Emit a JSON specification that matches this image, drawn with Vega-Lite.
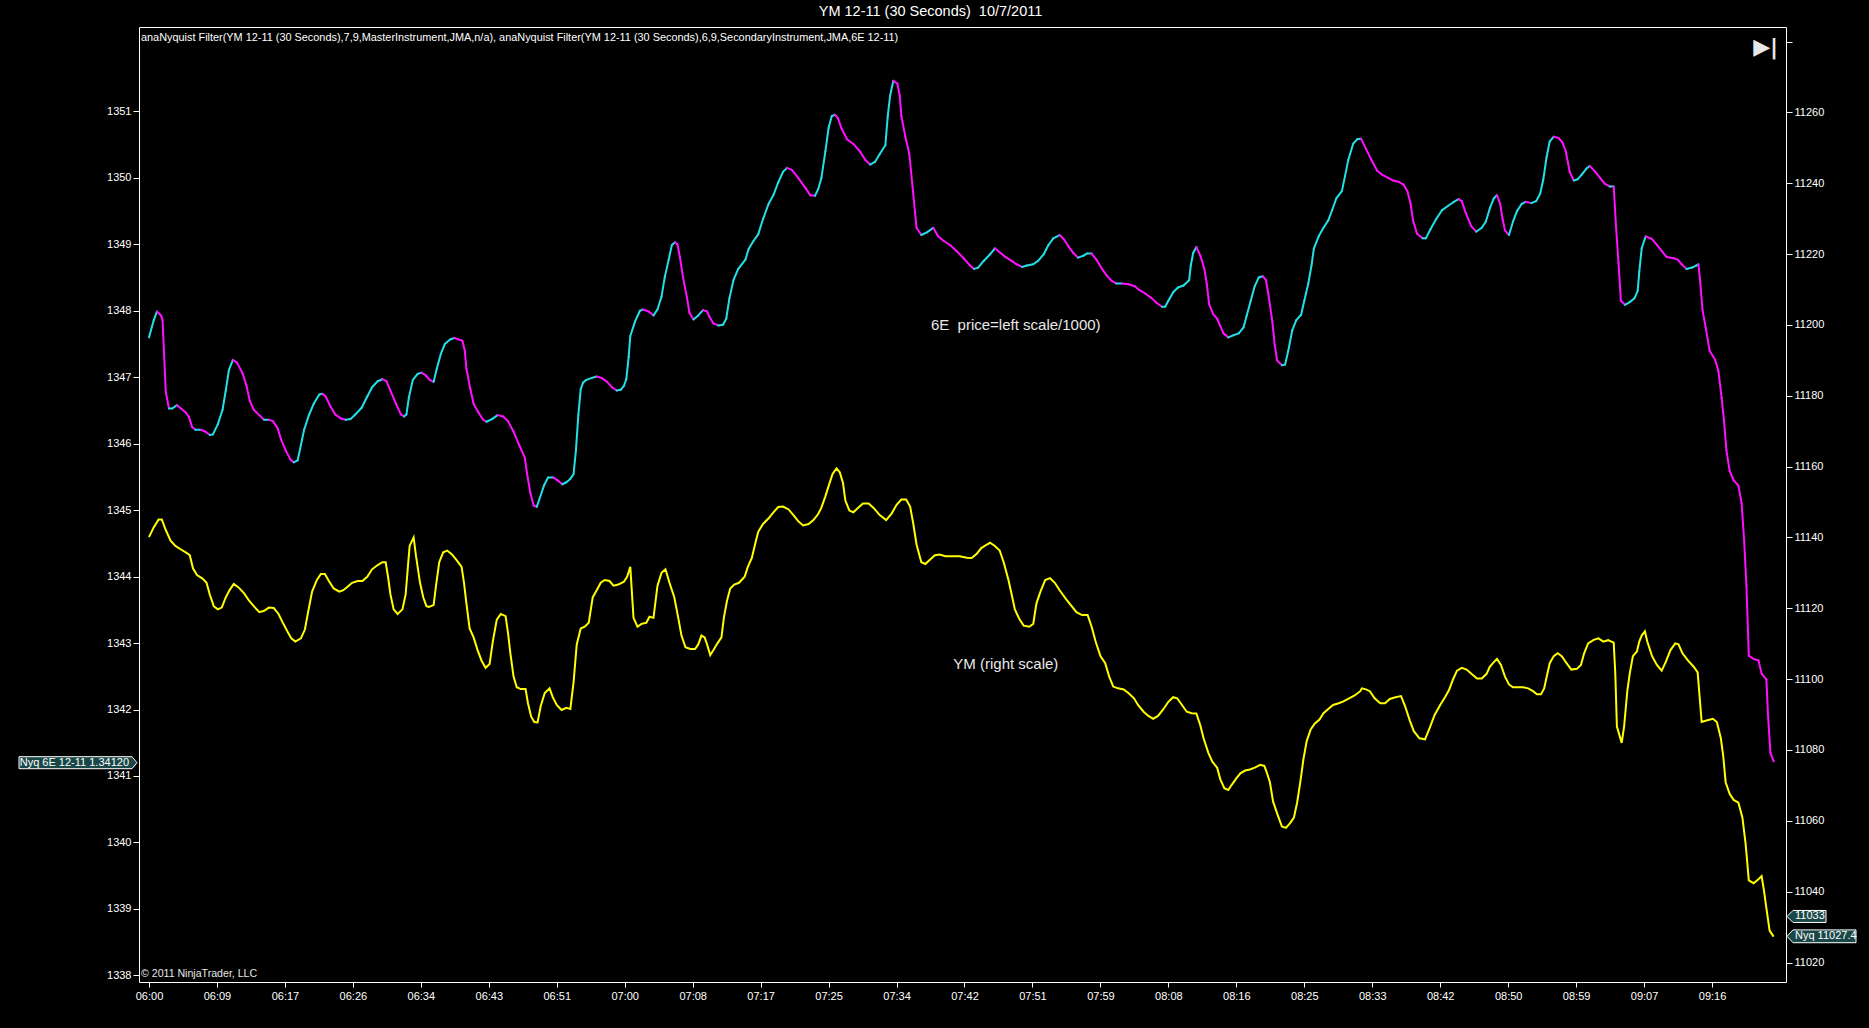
{
"$schema": "https://vega.github.io/schema/vega-lite/v6.json",
"width": 1647,
"height": 955,
"autosize": {"type": "none"},
"padding": {"left": 139, "top": 27, "right": 83, "bottom": 46},
"background": "#000000",
"config": {
  "view": {"stroke": "#ffffff", "strokeWidth": 1},
  "font": "Liberation Sans",
  "axis": {"labelColor": "#ffffff", "tickColor": "#ffffff", "domain": false, "grid": false, "labelFont": "Liberation Sans", "labelFontSize": 11, "tickSize": 6}
},
"title": {"text": "YM 12-11 (30 Seconds)\u00a0 10/7/2011", "color": "#ffffff", "fontSize": 14.5, "fontWeight": "normal", "font": "Liberation Sans", "anchor": "middle", "frame": "group", "dx": -32, "offset": 8},
"datasets": {
  "e6": [
{"m":0,"v":1347.6},{"m":0.6,"v":1347.86},{"m":1.0,"v":1347.99},{"m":1.5,"v":1347.93},{"m":1.7,"v":1347.86},{"m":1.9,"v":1347.31},{"m":2.1,"v":1346.78},{"m":2.5,"v":1346.53},{"m":2.9,"v":1346.53},{"m":3.5,"v":1346.58},{"m":4.0,"v":1346.53},{"m":4.6,"v":1346.47},{"m":5.0,"v":1346.4},{"m":5.4,"v":1346.25},{"m":5.8,"v":1346.21},{"m":6.5,"v":1346.21},{"m":7.1,"v":1346.18},{"m":7.6,"v":1346.13},{"m":8.0,"v":1346.14},{"m":8.6,"v":1346.29},{"m":9.2,"v":1346.51},{"m":9.6,"v":1346.8},{"m":10.0,"v":1347.11},{"m":10.5,"v":1347.26},{"m":11.0,"v":1347.22},{"m":11.7,"v":1347.06},{"m":12.2,"v":1346.87},{"m":12.6,"v":1346.65},{"m":13.1,"v":1346.51},{"m":13.8,"v":1346.43},{"m":14.4,"v":1346.36},{"m":15.0,"v":1346.36},{"m":15.5,"v":1346.34},{"m":16.1,"v":1346.23},{"m":16.5,"v":1346.07},{"m":17.1,"v":1345.9},{"m":17.7,"v":1345.76},{"m":18.1,"v":1345.72},{"m":18.6,"v":1345.75},{"m":19.0,"v":1345.98},{"m":19.4,"v":1346.21},{"m":20.0,"v":1346.43},{"m":20.6,"v":1346.6},{"m":21.3,"v":1346.74},{"m":21.7,"v":1346.75},{"m":22.1,"v":1346.71},{"m":22.7,"v":1346.56},{"m":23.3,"v":1346.44},{"m":24.0,"v":1346.38},{"m":24.6,"v":1346.36},{"m":25.2,"v":1346.37},{"m":25.8,"v":1346.44},{"m":26.6,"v":1346.54},{"m":27.3,"v":1346.71},{"m":27.9,"v":1346.85},{"m":28.6,"v":1346.94},{"m":29.2,"v":1346.97},{"m":29.7,"v":1346.94},{"m":30.2,"v":1346.8},{"m":30.9,"v":1346.6},{"m":31.5,"v":1346.44},{"m":31.9,"v":1346.41},{"m":32.2,"v":1346.44},{"m":32.5,"v":1346.69},{"m":33.0,"v":1346.96},{"m":33.6,"v":1347.05},{"m":34.1,"v":1347.07},{"m":34.6,"v":1347.03},
{"m":35.1,"v":1346.96},{"m":35.6,"v":1346.93},{"m":36.0,"v":1347.13},{"m":36.5,"v":1347.35},{"m":37.0,"v":1347.5},{"m":37.7,"v":1347.57},{"m":38.2,"v":1347.59},{"m":38.7,"v":1347.57},{"m":39.2,"v":1347.55},{"m":39.5,"v":1347.4},{"m":39.7,"v":1347.13},{"m":40.2,"v":1346.82},{"m":40.6,"v":1346.6},{"m":41.2,"v":1346.47},{"m":41.8,"v":1346.36},{"m":42.2,"v":1346.33},{"m":42.9,"v":1346.37},{"m":43.6,"v":1346.43},{"m":44.3,"v":1346.41},{"m":44.9,"v":1346.34},{"m":45.6,"v":1346.18},{"m":46.3,"v":1345.98},{"m":47.0,"v":1345.79},{"m":47.3,"v":1345.54},{"m":47.7,"v":1345.26},{"m":48.1,"v":1345.07},{"m":48.5,"v":1345.05},{"m":48.9,"v":1345.19},{"m":49.4,"v":1345.37},{"m":49.9,"v":1345.49},{"m":50.6,"v":1345.49},{"m":51.2,"v":1345.44},{"m":51.7,"v":1345.39},{"m":52.2,"v":1345.42},{"m":52.7,"v":1345.47},{"m":53.1,"v":1345.54},{"m":53.4,"v":1345.9},{"m":53.7,"v":1346.43},{"m":54.0,"v":1346.82},{"m":54.3,"v":1346.92},{"m":54.7,"v":1346.96},{"m":55.4,"v":1346.99},{"m":56.0,"v":1347.01},{"m":56.6,"v":1346.99},{"m":57.3,"v":1346.93},{"m":57.9,"v":1346.85},{"m":58.5,"v":1346.8},{"m":59.0,"v":1346.81},{"m":59.4,"v":1346.87},{"m":59.7,"v":1346.97},{"m":60.0,"v":1347.31},{"m":60.2,"v":1347.62},{"m":60.8,"v":1347.84},{"m":61.4,"v":1348.0},{"m":61.8,"v":1348.02},{"m":62.5,"v":1347.99},{"m":63.1,"v":1347.93},{"m":63.6,"v":1348.02},{"m":64.1,"v":1348.21},{"m":64.5,"v":1348.5},{"m":65.0,"v":1348.77},{"m":65.4,"v":1348.99},{"m":65.8,"v":1349.03},{"m":66.1,"v":1349.0},{"m":66.4,"v":1348.81},{"m":66.8,"v":1348.5},{"m":67.3,"v":1348.19},{"m":67.6,"v":1347.97},{"m":68.1,"v":1347.87},{"m":68.7,"v":1347.93},{"m":69.3,"v":1348.01},{"m":69.8,"v":1347.99},
{"m":70.1,"v":1347.91},{"m":70.6,"v":1347.81},{"m":71.2,"v":1347.78},{"m":71.8,"v":1347.79},{"m":72.2,"v":1347.88},{"m":72.6,"v":1348.19},{"m":73.1,"v":1348.46},{"m":73.7,"v":1348.63},{"m":74.6,"v":1348.77},{"m":75.0,"v":1348.93},{"m":75.6,"v":1349.05},{"m":76.2,"v":1349.15},{"m":76.8,"v":1349.38},{"m":77.5,"v":1349.61},{"m":78.1,"v":1349.74},{"m":78.7,"v":1349.93},{"m":79.3,"v":1350.09},{"m":79.8,"v":1350.15},{"m":80.4,"v":1350.12},{"m":81.2,"v":1350.0},{"m":82.1,"v":1349.85},{"m":82.7,"v":1349.74},{"m":83.3,"v":1349.73},{"m":83.7,"v":1349.83},{"m":84.1,"v":1350.0},{"m":84.6,"v":1350.4},{"m":85.0,"v":1350.75},{"m":85.4,"v":1350.93},{"m":85.8,"v":1350.95},{"m":86.2,"v":1350.89},{"m":86.6,"v":1350.75},{"m":87.3,"v":1350.58},{"m":88.1,"v":1350.51},{"m":88.9,"v":1350.4},{"m":89.6,"v":1350.27},{"m":90.2,"v":1350.2},{"m":90.8,"v":1350.24},{"m":91.4,"v":1350.36},{"m":92.1,"v":1350.49},{"m":92.4,"v":1350.93},{"m":92.7,"v":1351.24},{"m":93.1,"v":1351.46},{"m":93.6,"v":1351.42},{"m":93.9,"v":1351.24},{"m":94.1,"v":1350.93},{"m":94.6,"v":1350.62},{"m":95.1,"v":1350.36},{"m":95.5,"v":1349.87},{"m":96.0,"v":1349.25},{"m":96.6,"v":1349.14},{"m":97.3,"v":1349.18},{"m":98.1,"v":1349.25},{"m":98.7,"v":1349.12},{"m":99.4,"v":1349.05},{"m":100.2,"v":1348.99},{"m":101.0,"v":1348.9},{"m":101.9,"v":1348.79},{"m":102.7,"v":1348.68},{"m":103.2,"v":1348.63},{"m":103.7,"v":1348.65},{"m":104.4,"v":1348.75},{"m":105.2,"v":1348.85},
{"m":105.8,"v":1348.94},{"m":106.4,"v":1348.88},{"m":107.1,"v":1348.81},{"m":107.9,"v":1348.75},{"m":108.5,"v":1348.7},{"m":109.2,"v":1348.66},{"m":109.8,"v":1348.68},{"m":110.6,"v":1348.7},{"m":111.2,"v":1348.75},{"m":111.9,"v":1348.85},{"m":112.5,"v":1348.99},{"m":113.1,"v":1349.09},{"m":113.9,"v":1349.14},{"m":114.4,"v":1349.08},{"m":115.0,"v":1348.97},{"m":115.6,"v":1348.87},{"m":116.2,"v":1348.8},{"m":116.9,"v":1348.83},{"m":117.3,"v":1348.86},{"m":117.9,"v":1348.86},{"m":118.5,"v":1348.77},{"m":119.2,"v":1348.63},{"m":119.8,"v":1348.53},{"m":120.4,"v":1348.45},{"m":121.0,"v":1348.41},{"m":121.7,"v":1348.41},{"m":122.5,"v":1348.4},{"m":123.3,"v":1348.37},{"m":123.9,"v":1348.31},{"m":124.6,"v":1348.26},{"m":125.4,"v":1348.19},{"m":126.0,"v":1348.12},{"m":126.7,"v":1348.06},{"m":127.1,"v":1348.06},{"m":127.5,"v":1348.15},{"m":128.1,"v":1348.28},{"m":128.7,"v":1348.35},{"m":129.4,"v":1348.38},{"m":130.1,"v":1348.46},{"m":130.3,"v":1348.68},{"m":130.6,"v":1348.87},{"m":131.0,"v":1348.96},{"m":131.5,"v":1348.83},{"m":132.0,"v":1348.63},{"m":132.3,"v":1348.41},{"m":132.6,"v":1348.1},{"m":133.1,"v":1347.95},{"m":133.6,"v":1347.88},{"m":134.0,"v":1347.77},{"m":134.4,"v":1347.66},{"m":135.0,"v":1347.6},{"m":135.6,"v":1347.63},{"m":136.3,"v":1347.66},{"m":136.9,"v":1347.75},{"m":137.3,"v":1347.93},{"m":137.8,"v":1348.15},{"m":138.3,"v":1348.37},{"m":138.8,"v":1348.5},{"m":139.3,"v":1348.52},{"m":139.7,"v":1348.46},{"m":140.0,"v":1348.26},
{"m":140.5,"v":1347.84},{"m":140.8,"v":1347.49},{"m":141.1,"v":1347.25},{"m":141.7,"v":1347.18},{"m":142.1,"v":1347.19},{"m":142.5,"v":1347.4},{"m":143.0,"v":1347.71},{"m":143.5,"v":1347.86},{"m":144.1,"v":1347.94},{"m":144.5,"v":1348.15},{"m":145.0,"v":1348.41},{"m":145.4,"v":1348.68},{"m":145.7,"v":1348.94},{"m":146.3,"v":1349.12},{"m":146.9,"v":1349.25},{"m":147.5,"v":1349.36},{"m":148.0,"v":1349.52},{"m":148.5,"v":1349.69},{"m":149.2,"v":1349.8},{"m":149.6,"v":1350.03},{"m":150.0,"v":1350.27},{"m":150.6,"v":1350.51},{"m":151.1,"v":1350.58},{"m":151.6,"v":1350.59},{"m":152.2,"v":1350.44},{"m":152.9,"v":1350.27},{"m":153.6,"v":1350.11},{"m":154.2,"v":1350.05},{"m":155.0,"v":1350.0},{"m":155.6,"v":1349.96},{"m":156.3,"v":1349.94},{"m":156.9,"v":1349.9},{"m":157.4,"v":1349.8},{"m":157.8,"v":1349.61},{"m":158.1,"v":1349.36},{"m":158.6,"v":1349.16},{"m":159.3,"v":1349.09},{"m":159.7,"v":1349.09},{"m":160.3,"v":1349.23},{"m":161.0,"v":1349.38},{"m":161.7,"v":1349.51},{"m":162.5,"v":1349.58},{"m":163.1,"v":1349.63},{"m":163.8,"v":1349.68},{"m":164.2,"v":1349.65},{"m":164.7,"v":1349.47},{"m":165.4,"v":1349.27},{"m":166.0,"v":1349.19},{"m":166.7,"v":1349.25},{"m":167.2,"v":1349.34},{"m":167.7,"v":1349.54},{"m":168.2,"v":1349.69},{"m":168.6,"v":1349.74},{"m":169.0,"v":1349.61},{"m":169.3,"v":1349.38},{"m":169.6,"v":1349.21},{"m":170.1,"v":1349.14},{"m":170.6,"v":1349.34},{"m":171.1,"v":1349.5},{"m":171.7,"v":1349.61},{"m":172.2,"v":1349.64},{"m":172.9,"v":1349.62},{"m":173.5,"v":1349.65},{"m":174.0,"v":1349.76},{"m":174.4,"v":1349.98},{"m":174.8,"v":1350.31},{"m":175.2,"v":1350.55},
{"m":175.7,"v":1350.62},{"m":176.3,"v":1350.6},{"m":176.8,"v":1350.53},{"m":177.2,"v":1350.4},{"m":177.7,"v":1350.09},{"m":178.2,"v":1349.96},{"m":178.7,"v":1349.98},{"m":179.2,"v":1350.05},{"m":179.8,"v":1350.14},{"m":180.2,"v":1350.18},{"m":180.9,"v":1350.09},{"m":181.5,"v":1350.0},{"m":182.1,"v":1349.91},{"m":182.7,"v":1349.87},{"m":183.2,"v":1349.87},{"m":183.5,"v":1349.25},{"m":183.8,"v":1348.72},{"m":184.1,"v":1348.15},{"m":184.6,"v":1348.09},{"m":185.2,"v":1348.13},{"m":185.8,"v":1348.19},{"m":186.2,"v":1348.3},{"m":186.4,"v":1348.59},{"m":186.7,"v":1348.94},{"m":187.2,"v":1349.12},{"m":188.0,"v":1349.08},{"m":188.6,"v":1348.99},{"m":189.2,"v":1348.9},{"m":189.8,"v":1348.81},{"m":190.7,"v":1348.79},{"m":191.2,"v":1348.77},{"m":191.7,"v":1348.7},{"m":192.3,"v":1348.63},{"m":193.0,"v":1348.65},{"m":193.5,"v":1348.68},{"m":193.8,"v":1348.7},{"m":194.0,"v":1348.46},{"m":194.3,"v":1348.02},{"m":194.7,"v":1347.75},{"m":195.2,"v":1347.4},{"m":195.9,"v":1347.26},{"m":196.3,"v":1347.09},{"m":196.7,"v":1346.69},{"m":197.0,"v":1346.34},{"m":197.3,"v":1345.9},{"m":197.7,"v":1345.59},{"m":198.2,"v":1345.45},{"m":198.8,"v":1345.37},{"m":199.2,"v":1345.1},{"m":199.5,"v":1344.57},{"m":199.8,"v":1343.87},{"m":200.1,"v":1342.81},{"m":200.7,"v":1342.76},{"m":201.3,"v":1342.74},{"m":201.7,"v":1342.54},{"m":202.3,"v":1342.45},{"m":202.5,"v":1341.92},{"m":202.8,"v":1341.35},{"m":203.2,"v":1341.22}
  ],
  "ym": [
{"m":0,"v":11140.1},{"m":0.6,"v":11142.9},{"m":1.2,"v":11145.1},{"m":1.6,"v":11145.1},{"m":2.1,"v":11142.1},{"m":2.7,"v":11139.1},{"m":3.3,"v":11137.6},{"m":4.0,"v":11136.6},{"m":4.6,"v":11135.8},{"m":5.1,"v":11135.0},{"m":5.5,"v":11131.3},{"m":6.0,"v":11129.4},{"m":6.7,"v":11128.4},{"m":7.2,"v":11127.2},{"m":7.6,"v":11123.9},{"m":8.1,"v":11120.6},{"m":8.6,"v":11119.7},{"m":9.1,"v":11120.2},{"m":9.6,"v":11123.1},{"m":10.1,"v":11125.2},{"m":10.6,"v":11126.9},{"m":11.2,"v":11125.9},{"m":11.9,"v":11124.2},{"m":12.5,"v":11122.2},{"m":13.1,"v":11120.6},{"m":13.8,"v":11118.9},{"m":14.4,"v":11119.3},{"m":15.0,"v":11120.2},{"m":15.6,"v":11120.1},{"m":16.2,"v":11118.4},{"m":16.7,"v":11116.1},{"m":17.3,"v":11113.5},{"m":17.8,"v":11111.5},{"m":18.3,"v":11110.6},{"m":19.0,"v":11111.5},{"m":19.5,"v":11114.0},{"m":19.9,"v":11118.9},{"m":20.4,"v":11124.7},{"m":21.0,"v":11128.0},{"m":21.5,"v":11129.7},{"m":22.0,"v":11129.7},{"m":22.5,"v":11127.7},{"m":23.1,"v":11125.6},{"m":23.8,"v":11124.7},{"m":24.3,"v":11125.1},{"m":24.8,"v":11126.0},{"m":25.4,"v":11127.2},{"m":26.1,"v":11127.7},{"m":26.7,"v":11127.7},{"m":27.3,"v":11128.9},{"m":27.9,"v":11131.0},{"m":28.6,"v":11132.2},{"m":29.2,"v":11133.0},{"m":29.6,"v":11133.0},{"m":29.9,"v":11128.9},{"m":30.2,"v":11123.9},{"m":30.6,"v":11119.7},{"m":31.1,"v":11118.4},{"m":31.7,"v":11119.7},{"m":32.1,"v":11123.9},{"m":32.4,"v":11132.2},{"m":32.6,"v":11137.6},{"m":33.1,"v":11140.0},{"m":33.4,"v":11134.7},{"m":33.9,"v":11127.2},{"m":34.3,"v":11123.1},{"m":34.7,"v":11120.6},{"m":35.0,"v":11120.4},
{"m":35.6,"v":11120.9},{"m":35.9,"v":11126.4},{"m":36.3,"v":11133.0},{"m":36.8,"v":11135.8},{"m":37.3,"v":11136.3},{"m":37.9,"v":11135.2},{"m":38.5,"v":11133.5},{"m":39.1,"v":11131.7},{"m":39.4,"v":11127.2},{"m":39.7,"v":11121.4},{"m":40.1,"v":11114.3},{"m":40.6,"v":11111.8},{"m":41.1,"v":11108.2},{"m":41.6,"v":11105.2},{"m":42.1,"v":11103.2},{"m":42.6,"v":11104.3},{"m":43.0,"v":11110.6},{"m":43.5,"v":11116.8},{"m":44.0,"v":11118.4},{"m":44.6,"v":11117.8},{"m":44.9,"v":11113.1},{"m":45.2,"v":11107.3},{"m":45.6,"v":11100.7},{"m":46.0,"v":11097.7},{"m":46.5,"v":11097.2},{"m":47.1,"v":11097.2},{"m":47.4,"v":11093.2},{"m":47.8,"v":11089.4},{"m":48.2,"v":11087.9},{"m":48.6,"v":11087.8},{"m":49.0,"v":11092.4},{"m":49.5,"v":11096.1},{"m":50.1,"v":11097.4},{"m":50.5,"v":11094.9},{"m":51.0,"v":11092.7},{"m":51.6,"v":11091.3},{"m":52.2,"v":11091.9},{"m":52.7,"v":11091.6},{"m":53.1,"v":11099.0},{"m":53.5,"v":11109.8},{"m":54.0,"v":11114.3},{"m":54.5,"v":11114.8},{"m":55.0,"v":11115.9},{"m":55.5,"v":11123.1},{"m":56.0,"v":11125.1},{"m":56.5,"v":11127.2},{"m":57.0,"v":11128.0},{"m":57.6,"v":11127.7},{"m":58.1,"v":11126.4},{"m":58.7,"v":11126.7},{"m":59.4,"v":11127.5},{"m":59.8,"v":11128.9},{"m":60.2,"v":11131.7},{"m":60.6,"v":11117.3},{"m":61.1,"v":11114.8},{"m":61.6,"v":11115.6},{"m":62.2,"v":11115.9},{"m":62.6,"v":11117.6},{"m":63.1,"v":11117.3},{"m":63.6,"v":11126.4},{"m":64.1,"v":11130.0},{"m":64.6,"v":11131.0},{"m":65.1,"v":11127.2},{"m":65.7,"v":11123.1},{"m":66.2,"v":11117.3},{"m":66.6,"v":11112.3},{"m":67.1,"v":11109.0},{"m":67.7,"v":11108.5},{"m":68.3,"v":11108.5},{"m":68.7,"v":11109.8},{"m":69.1,"v":11112.3},{"m":69.5,"v":11111.8},{"m":69.8,"v":11109.8},{"m":70.2,"v":11106.8},
{"m":70.6,"v":11108.2},{"m":71.1,"v":11110.1},{"m":71.6,"v":11111.8},{"m":71.9,"v":11117.3},{"m":72.3,"v":11122.2},{"m":72.7,"v":11125.6},{"m":73.2,"v":11126.7},{"m":73.8,"v":11127.2},{"m":74.5,"v":11128.9},{"m":74.9,"v":11131.7},{"m":75.4,"v":11134.2},{"m":75.8,"v":11138.0},{"m":76.2,"v":11141.6},{"m":76.8,"v":11143.8},{"m":77.5,"v":11145.4},{"m":78.1,"v":11147.1},{"m":78.7,"v":11148.6},{"m":79.3,"v":11148.7},{"m":80.0,"v":11147.9},{"m":80.6,"v":11146.3},{"m":81.2,"v":11144.6},{"m":81.8,"v":11143.4},{"m":82.5,"v":11143.8},{"m":83.1,"v":11144.9},{"m":83.7,"v":11146.6},{"m":84.1,"v":11148.4},{"m":84.6,"v":11151.6},{"m":85.0,"v":11154.5},{"m":85.5,"v":11157.9},{"m":86.0,"v":11159.5},{"m":86.4,"v":11158.4},{"m":86.8,"v":11155.4},{"m":87.1,"v":11150.4},{"m":87.6,"v":11147.6},{"m":88.1,"v":11147.1},{"m":88.7,"v":11148.4},{"m":89.3,"v":11149.6},{"m":90.0,"v":11149.6},{"m":90.6,"v":11148.4},{"m":91.4,"v":11146.3},{"m":92.2,"v":11144.9},{"m":92.9,"v":11146.8},{"m":93.5,"v":11149.2},{"m":94.1,"v":11150.7},{"m":94.7,"v":11150.7},{"m":95.2,"v":11148.7},{"m":95.6,"v":11143.8},{"m":96.0,"v":11138.0},{"m":96.6,"v":11133.0},{"m":97.1,"v":11132.5},{"m":97.7,"v":11133.8},{"m":98.3,"v":11135.0},{"m":98.9,"v":11135.2},{"m":99.6,"v":11134.7},{"m":100.2,"v":11134.7},{"m":100.8,"v":11134.7},{"m":101.4,"v":11134.7},{"m":102.3,"v":11134.3},{"m":102.9,"v":11134.2},{"m":103.5,"v":11135.3},{"m":104.1,"v":11137.0},{"m":104.8,"v":11138.0},{"m":105.2,"v":11138.5},
{"m":105.8,"v":11137.6},{"m":106.4,"v":11136.3},{"m":106.9,"v":11133.0},{"m":107.5,"v":11128.0},{"m":107.9,"v":11123.9},{"m":108.3,"v":11119.7},{"m":108.9,"v":11116.8},{"m":109.4,"v":11115.1},{"m":110.1,"v":11114.8},{"m":110.6,"v":11115.6},{"m":111.0,"v":11121.4},{"m":111.5,"v":11124.7},{"m":112.1,"v":11128.0},{"m":112.7,"v":11128.5},{"m":113.3,"v":11127.2},{"m":113.9,"v":11125.1},{"m":114.7,"v":11122.6},{"m":115.4,"v":11120.6},{"m":116.0,"v":11118.9},{"m":116.7,"v":11118.1},{"m":117.4,"v":11118.1},{"m":117.9,"v":11114.8},{"m":118.4,"v":11110.6},{"m":119.0,"v":11106.5},{"m":119.6,"v":11104.5},{"m":120.1,"v":11100.7},{"m":120.6,"v":11097.9},{"m":121.2,"v":11097.4},{"m":121.9,"v":11097.1},{"m":122.5,"v":11096.1},{"m":123.2,"v":11094.6},{"m":123.7,"v":11092.7},{"m":124.4,"v":11090.8},{"m":125.0,"v":11089.6},{"m":125.6,"v":11088.8},{"m":126.2,"v":11089.6},{"m":126.8,"v":11091.3},{"m":127.5,"v":11093.6},{"m":128.1,"v":11094.9},{"m":128.6,"v":11094.6},{"m":129.2,"v":11092.7},{"m":129.8,"v":11090.8},{"m":130.4,"v":11090.4},{"m":131.0,"v":11090.3},{"m":131.5,"v":11086.9},{"m":131.9,"v":11083.3},{"m":132.5,"v":11079.2},{"m":133.0,"v":11076.7},{"m":133.6,"v":11075.0},{"m":134.0,"v":11071.7},{"m":134.5,"v":11069.2},{"m":135.0,"v":11068.7},{"m":135.4,"v":11070.1},{"m":136.0,"v":11072.0},{"m":136.5,"v":11073.4},{"m":137.1,"v":11074.2},{"m":137.7,"v":11074.5},{"m":138.3,"v":11075.0},{"m":139.0,"v":11075.8},{"m":139.5,"v":11075.5},{"m":139.8,"v":11073.7},{"m":140.2,"v":11070.9},
{"m":140.6,"v":11065.4},{"m":141.1,"v":11062.1},{"m":141.7,"v":11058.4},{"m":142.2,"v":11058.0},{"m":142.7,"v":11059.3},{"m":143.2,"v":11060.9},{"m":143.6,"v":11065.1},{"m":144.0,"v":11070.9},{"m":144.4,"v":11077.5},{"m":144.8,"v":11082.5},{"m":145.3,"v":11085.8},{"m":145.8,"v":11087.4},{"m":146.4,"v":11088.6},{"m":146.9,"v":11090.4},{"m":147.5,"v":11091.6},{"m":148.1,"v":11092.7},{"m":148.8,"v":11093.2},{"m":149.4,"v":11093.7},{"m":150.1,"v":11094.6},{"m":150.8,"v":11095.4},{"m":151.5,"v":11096.6},{"m":151.7,"v":11097.4},{"m":152.2,"v":11097.1},{"m":152.7,"v":11096.6},{"m":153.3,"v":11094.6},{"m":154.0,"v":11093.2},{"m":154.6,"v":11093.2},{"m":155.2,"v":11094.4},{"m":155.9,"v":11094.9},{"m":156.6,"v":11095.2},{"m":157.1,"v":11092.4},{"m":157.7,"v":11088.3},{"m":158.2,"v":11085.3},{"m":158.9,"v":11083.3},{"m":159.6,"v":11083.0},{"m":160.2,"v":11086.3},{"m":160.8,"v":11089.9},{"m":161.5,"v":11092.7},{"m":162.1,"v":11094.9},{"m":162.6,"v":11096.9},{"m":163.1,"v":11099.9},{"m":163.6,"v":11102.4},{"m":164.2,"v":11103.2},{"m":164.8,"v":11102.7},{"m":165.4,"v":11101.5},{"m":166.1,"v":11100.2},{"m":166.7,"v":11100.2},{"m":167.3,"v":11101.5},{"m":167.7,"v":11103.5},{"m":168.2,"v":11104.8},{"m":168.6,"v":11105.7},{"m":169.1,"v":11104.0},{"m":169.6,"v":11100.7},{"m":170.1,"v":11098.5},{"m":170.6,"v":11097.7},{"m":171.3,"v":11097.7},{"m":171.9,"v":11097.7},{"m":172.5,"v":11097.4},{"m":173.1,"v":11096.6},{"m":173.6,"v":11095.7},{"m":174.1,"v":11095.7},{"m":174.5,"v":11097.4},{"m":174.9,"v":11101.5},{"m":175.2,"v":11104.5},
{"m":175.7,"v":11106.5},{"m":176.2,"v":11107.3},{"m":176.7,"v":11106.5},{"m":177.3,"v":11104.5},{"m":177.9,"v":11102.7},{"m":178.6,"v":11102.9},{"m":179.1,"v":11104.0},{"m":179.5,"v":11107.3},{"m":180.0,"v":11110.1},{"m":180.7,"v":11111.1},{"m":181.3,"v":11111.5},{"m":181.9,"v":11110.6},{"m":182.5,"v":11111.0},{"m":183.2,"v":11110.3},{"m":183.4,"v":11101.5},{"m":183.6,"v":11086.6},{"m":184.2,"v":11082.0},{"m":184.5,"v":11086.6},{"m":184.9,"v":11096.6},{"m":185.2,"v":11101.5},{"m":185.6,"v":11106.5},{"m":186.1,"v":11107.8},{"m":186.4,"v":11110.6},{"m":186.7,"v":11112.3},{"m":187.1,"v":11113.5},{"m":187.4,"v":11110.6},{"m":188.0,"v":11106.5},{"m":188.6,"v":11104.0},{"m":189.2,"v":11102.4},{"m":189.7,"v":11104.8},{"m":190.3,"v":11108.2},{"m":190.9,"v":11110.1},{"m":191.3,"v":11109.8},{"m":191.8,"v":11107.3},{"m":192.5,"v":11105.2},{"m":193.2,"v":11103.5},{"m":193.7,"v":11101.9},{"m":194.2,"v":11087.9},{"m":194.8,"v":11088.3},{"m":195.6,"v":11088.8},{"m":196.1,"v":11087.9},{"m":196.6,"v":11083.3},{"m":196.9,"v":11078.3},{"m":197.2,"v":11070.9},{"m":197.7,"v":11067.6},{"m":198.2,"v":11065.9},{"m":198.8,"v":11065.1},{"m":199.3,"v":11060.9},{"m":199.7,"v":11053.5},{"m":200.1,"v":11043.2},{"m":200.7,"v":11042.4},{"m":201.3,"v":11043.5},{"m":201.7,"v":11044.4},{"m":202.0,"v":11040.2},{"m":202.3,"v":11035.3},{"m":202.7,"v":11029.0},{"m":203.2,"v":11027.3}
  ],
  "e6marks": [{"label": "Nyq 6E 12-11 1.34120", "v": 1341.2}],
  "ymmarks": [{"label": "11033", "v": 11033}, {"label": "Nyq 11027.4", "v": 11027.4}]
},
"layer": [
  {
    "layer": [
      {
        "data": {"name": "e6"},
        "transform": [
          {"window": [{"op": "lead", "field": "m", "as": "m2"}, {"op": "lead", "field": "v", "as": "v2"}], "sort": [{"field": "m", "order": "ascending"}]},
          {"filter": "datum.m2 != null"}
        ],
        "mark": {"type": "rule", "strokeWidth": 2, "strokeCap": "round"},
        "encoding": {
          "x": {"field": "m", "type": "quantitative", "title": null,
                "scale": {"domain": [-1.25, 204.75], "nice": false, "zero": false},
                "axis": {"orient": "bottom", "values": [0,8.5,17,25.5,34,42.5,51,59.5,68,76.5,85,93.5,102,110.5,119,127.5,136,144.5,153,161.5,170,178.5,187,195.5],
                         "labelExpr": "timeFormat(time(datetime(2011,9,7,6,0,0)) + (datum.value+0.5)*60000, '%H:%M')",
                         "tickSize": 5, "labelPadding": 3, "labelOverlap": false, "labelFlush": false, "title": null}},
          "x2": {"field": "m2"},
          "y": {"field": "v", "type": "quantitative", "title": null,
                "scale": {"domain": [1337.9, 1352.27], "nice": false, "zero": false},
                "axis": {"orient": "left", "values": [1338,1339,1340,1341,1342,1343,1344,1345,1346,1347,1348,1349,1350,1351], "format": "d", "tickSize": 6, "labelPadding": 2, "title": null}},
          "y2": {"field": "v2"},
          "color": {"condition": {"test": "datum.v2 >= datum.v", "value": "#22e0e6"}, "value": "#ff10ff"}
        }
      },
      {
        "data": {"values": [{}]},
        "mark": {"type": "text", "text": "anaNyquist Filter(YM 12-11 (30 Seconds),7,9,MasterInstrument,JMA,n/a), anaNyquist Filter(YM 12-11 (30 Seconds),6,9,SecondaryInstrument,JMA,6E 12-11)", "align": "left", "baseline": "middle", "fontSize": 10.9, "color": "#ffffff", "font": "Liberation Sans"},
        "encoding": {
          "x": {"datum": -1.0, "type": "quantitative", "scale": {"domain": [-1.25, 204.75], "nice": false, "zero": false}, "title": null},
          "y": {"datum": 1352.11, "type": "quantitative", "scale": {"domain": [1337.9, 1352.27], "nice": false, "zero": false}, "title": null}
        }
      },
      {
        "data": {"values": [{}]},
        "mark": {"type": "text", "text": "6E\u00a0 price=left scale/1000)", "align": "left", "baseline": "middle", "fontSize": 15, "color": "#e8e8e8", "font": "Liberation Sans"},
        "encoding": {
          "x": {"datum": 97.8, "type": "quantitative", "scale": {"domain": [-1.25, 204.75], "nice": false, "zero": false}, "title": null},
          "y": {"datum": 1347.78, "type": "quantitative", "scale": {"domain": [1337.9, 1352.27], "nice": false, "zero": false}, "title": null}
        }
      },
      {
        "data": {"values": [{}]},
        "mark": {"type": "text", "text": "© 2011 NinjaTrader, LLC", "align": "left", "baseline": "middle", "fontSize": 10.6, "color": "#e8e8e8", "font": "Liberation Sans"},
        "encoding": {
          "x": {"datum": -1.0, "type": "quantitative", "scale": {"domain": [-1.25, 204.75], "nice": false, "zero": false}, "title": null},
          "y": {"datum": 1338.02, "type": "quantitative", "scale": {"domain": [1337.9, 1352.27], "nice": false, "zero": false}, "title": null}
        }
      },
      {
        "data": {"values": [{}]},
        "mark": {"type": "text", "text": "▶|", "align": "center", "baseline": "middle", "fontSize": 22, "fontWeight": "bold", "color": "#e8e8e8", "font": "DejaVu Sans"},
        "encoding": {
          "x": {"datum": 202.2, "type": "quantitative", "scale": {"domain": [-1.25, 204.75], "nice": false, "zero": false}, "title": null},
          "y": {"datum": 1351.97, "type": "quantitative", "scale": {"domain": [1337.9, 1352.27], "nice": false, "zero": false}, "title": null}
        }
      },
      {
        "data": {"name": "e6marks"},
        "mark": {"type": "point", "filled": true, "color": "#1a4848", "fill": "#1a4848", "fillOpacity": 1, "stroke": "#ffffff", "strokeWidth": 1, "opacity": 1, "size": 57600,
                 "shape": "M -1 -0.05 L -0.058 -0.05 L -0.017 0 L -0.058 0.05 L -1 0.05 Z"},
        "encoding": {
          "x": {"datum": -1.25, "type": "quantitative", "scale": {"domain": [-1.25, 204.75], "nice": false, "zero": false}, "title": null},
          "y": {"field": "v", "type": "quantitative", "scale": {"domain": [1337.9, 1352.27], "nice": false, "zero": false}, "title": null}
        }
      },
      {
        "data": {"name": "e6marks"},
        "mark": {"type": "text", "align": "right", "baseline": "middle", "dx": -10, "fontSize": 11, "color": "#ffffff", "font": "Liberation Sans"},
        "encoding": {
          "x": {"datum": -1.25, "type": "quantitative", "scale": {"domain": [-1.25, 204.75], "nice": false, "zero": false}, "title": null},
          "y": {"field": "v", "type": "quantitative", "scale": {"domain": [1337.9, 1352.27], "nice": false, "zero": false}, "title": null},
          "text": {"field": "label"}
        }
      }
    ]
  },
  {
    "layer": [
      {
        "data": {"name": "ym"},
        "mark": {"type": "line", "color": "#ffff00", "strokeWidth": 2},
        "encoding": {
          "x": {"field": "m", "type": "quantitative", "title": null, "scale": {"domain": [-1.25, 204.75], "nice": false, "zero": false}},
          "y": {"field": "v", "type": "quantitative", "title": null,
                "scale": {"domain": [11014.5, 11284.1], "nice": false, "zero": false},
                "axis": {"orient": "right", "values": [11020,11040,11060,11080,11100,11120,11140,11160,11180,11200,11220,11240,11260,11280], "format": "d",
                         "labelExpr": "datum.value >= 11280 ? '' : datum.label", "tickSize": 6, "labelPadding": 2, "title": null}}
        }
      },
      {
        "data": {"values": [{}]},
        "mark": {"type": "text", "text": "YM (right scale)", "align": "left", "baseline": "middle", "fontSize": 15, "color": "#e8e8e8", "font": "Liberation Sans"},
        "encoding": {
          "x": {"datum": 100.6, "type": "quantitative", "scale": {"domain": [-1.25, 204.75], "nice": false, "zero": false}, "title": null},
          "y": {"datum": 11104.4, "type": "quantitative", "scale": {"domain": [11014.5, 11284.1], "nice": false, "zero": false}, "title": null}
        }
      },
      {
        "data": {"name": "ymmarks"},
        "mark": {"type": "point", "filled": true, "color": "#1a4848", "fill": "#1a4848", "fillOpacity": 1, "stroke": "#ffffff", "strokeWidth": 1, "opacity": 1, "size": 25600},
        "encoding": {
          "x": {"datum": 204.75, "type": "quantitative", "scale": {"domain": [-1.25, 204.75], "nice": false, "zero": false}, "title": null},
          "y": {"field": "v", "type": "quantitative", "scale": {"domain": [11014.5, 11284.1], "nice": false, "zero": false}, "title": null},
          "shape": {"field": "label", "type": "nominal", "legend": null,
                    "scale": {"domain": ["11033", "Nyq 11027.4"],
                              "range": ["M 0.0125 0 L 0.0875 -0.075 L 0.5 -0.075 L 0.5 0.075 L 0.0875 0.075 Z", "M 0.0125 0 L 0.0875 -0.08 L 0.875 -0.08 L 0.875 0.08 L 0.0875 0.08 Z"]}}
        }
      },
      {
        "data": {"name": "ymmarks"},
        "mark": {"type": "text", "align": "left", "baseline": "middle", "dx": 9, "fontSize": 11, "color": "#ffffff", "font": "Liberation Sans"},
        "encoding": {
          "x": {"datum": 204.75, "type": "quantitative", "scale": {"domain": [-1.25, 204.75], "nice": false, "zero": false}, "title": null},
          "y": {"field": "v", "type": "quantitative", "scale": {"domain": [11014.5, 11284.1], "nice": false, "zero": false}, "title": null},
          "text": {"field": "label"}
        }
      }
    ]
  }
],
"resolve": {"scale": {"y": "independent"}, "axis": {"y": "independent"}}
}
